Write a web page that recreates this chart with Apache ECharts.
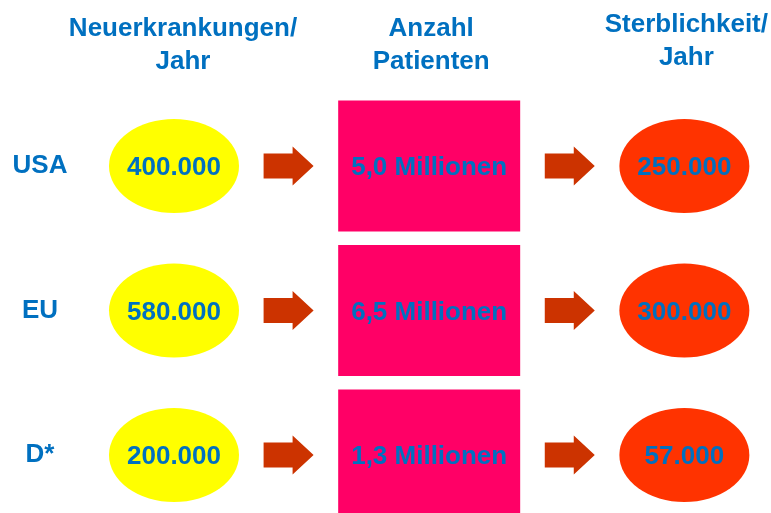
<!DOCTYPE html>
<html lang="de">
<head>
    <meta charset="UTF-8">
    <title>Neuerkrankungen, Patienten, Sterblichkeit</title>
    <script src="https://cdn.jsdelivr.net/npm/echarts@6/dist/echarts.min.js"></script>
    <style>
        html, body { margin: 0; padding: 0; background: #fff; }
        #main { width: 771px; height: 513px; }
    </style>
</head>
<body>
    <div id="main"></div>
    <script>
        // Daten
        const regions = ['USA', 'EU', 'D*'];
        const columns = ['Neuerkrankungen/\nJahr', '', 'Anzahl\nPatienten', '', 'Sterblichkeit/\nJahr'];
        const newCases = [400000, 580000, 200000];      // Neuerkrankungen pro Jahr
        const patientsMio = [5.0, 6.5, 1.3];             // Anzahl Patienten (Millionen)
        const deaths = [250000, 300000, 57000];          // Sterblichkeit pro Jahr

        const blue = '#0070c0';
        const font = 'Liberation Sans, Arial, sans-serif';
        const ovalSize = [130, 94];
        const boxSize = [182, 131];
        const arrowSize = [50, 39];

        function fmtNum(v) {
            return String(v).replace(/\B(?=(\d{3})+(?!\d))/g, '.');
        }
        function fmtMio(v) {
            return v.toFixed(1).replace('.', ',') + ' Millionen';
        }

        // Pfeile mittig in der Lücke zwischen zwei Formen
        const arrowShift = (ovalSize[0] / 2 - boxSize[0] / 2) / 2;

        const labelStyle = {
            show: true,
            position: 'inside',
            offset: [0, 2],
            color: blue,
            fontFamily: font,
            fontWeight: 'bold',
            fontSize: 26
        };

        const myChart = echarts.init(document.getElementById('main'));
        const option = {
            backgroundColor: '#fff',
            animation: false,
            grid: { left: 174, right: 86, top: 166, bottom: 58 },
            xAxis: {
                type: 'category',
                position: 'top',
                boundaryGap: false,
                data: columns.map((c, i) => ({
                    value: c,
                    textStyle: i === 0 ? { padding: [0, 0, 0, 18] } :
                        i === 2 ? { padding: [0, 0, 0, 4] } :
                        i === 4 ? { padding: [0, 0, 4, 4] } : {}
                })),
                axisLine: { show: false },
                axisTick: { show: false },
                splitLine: { show: false },
                axisLabel: {
                    interval: 0,
                    margin: 88,
                    color: blue,
                    fontFamily: font,
                    fontWeight: 'bold',
                    fontSize: 26,
                    lineHeight: 33,
                    align: 'center'
                }
            },
            yAxis: {
                type: 'category',
                inverse: true,
                boundaryGap: false,
                data: regions,
                axisLine: { show: false },
                axisTick: { show: false },
                splitLine: { show: false },
                axisLabel: {
                    margin: 134,
                    align: 'center',
                    padding: [4, 0, 0, 0],
                    color: blue,
                    fontFamily: font,
                    fontWeight: 'bold',
                    fontSize: 26
                }
            },
            series: [
                {
                    // Neuerkrankungen
                    type: 'scatter',
                    symbol: 'circle',
                    symbolSize: ovalSize,
                    itemStyle: { color: '#ffff00', opacity: 1 },
                    label: Object.assign({}, labelStyle, { formatter: p => fmtNum(p.value[2]) }),
                    data: newCases.map((v, i) => [0, i, v])
                },
                {
                    type: 'scatter',
                    symbol: 'path://M0,7 L29,7 L29,0 L50,19.5 L29,39 L29,32 L0,32 Z',
                    symbolSize: arrowSize,
                    symbolOffset: [arrowShift, 0],
                    itemStyle: { color: '#cc3300', opacity: 1 },
                    data: regions.map((r, i) => [1, i])
                },
                {
                    // Anzahl Patienten
                    type: 'scatter',
                    symbol: 'rect',
                    symbolSize: boxSize,
                    clip: false,
                    itemStyle: { color: '#ff0066', opacity: 1 },
                    label: Object.assign({}, labelStyle, { formatter: p => fmtMio(p.value[2]) }),
                    data: patientsMio.map((v, i) => [2, i, v])
                },
                {
                    type: 'scatter',
                    symbol: 'path://M0,7 L29,7 L29,0 L50,19.5 L29,39 L29,32 L0,32 Z',
                    symbolSize: arrowSize,
                    symbolOffset: [-arrowShift, 0],
                    itemStyle: { color: '#cc3300', opacity: 1 },
                    data: regions.map((r, i) => [3, i])
                },
                {
                    // Sterblichkeit
                    type: 'scatter',
                    symbol: 'circle',
                    symbolSize: ovalSize,
                    itemStyle: { color: '#ff3300', opacity: 1 },
                    label: Object.assign({}, labelStyle, { formatter: p => fmtNum(p.value[2]) }),
                    data: deaths.map((v, i) => [4, i, v])
                }
            ]
        };
        myChart.setOption(option);
    </script>
</body>
</html>
